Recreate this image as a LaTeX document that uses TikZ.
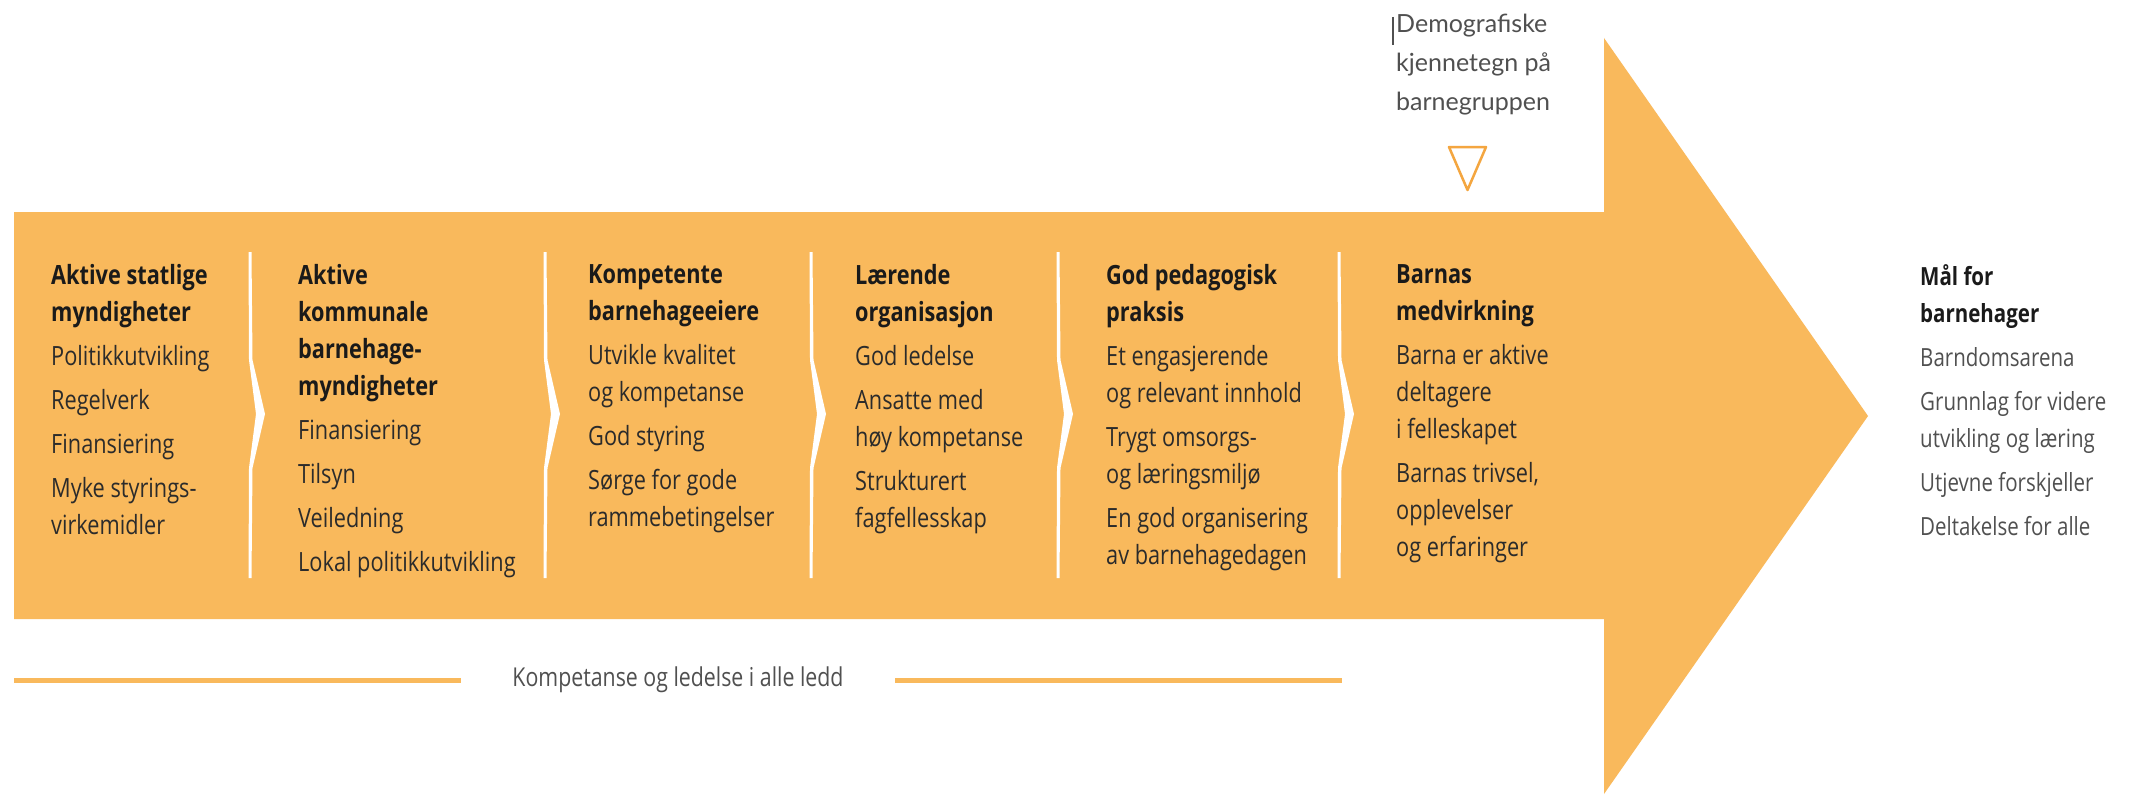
\documentclass[tikz,border=0pt]{standalone}
\usepackage{fontspec}
\setmainfont{Open Sans}
\newfontfamily\cf[FakeStretch=0.82]{Open Sans}
\newfontfamily\lf{Lato}
\definecolor{org}{HTML}{F9B95C}
\definecolor{orgline}{HTML}{F4A640}
\definecolor{hd}{HTML}{1A1A1A}
\definecolor{it}{HTML}{2B2B2B}
\definecolor{gr}{HTML}{505050}
\begin{document}
\begin{tikzpicture}[x=1pt,y=-1pt,
  col/.style={anchor=north west, inner sep=0pt, align=left, text=it,
    font=\cf\fontsize{26.5}{37}\selectfont},
  goal/.style={anchor=north west, inner sep=0pt, align=left, text=gr,
    font=\cf\fontsize{25}{37}\selectfont},
  demo/.style={anchor=north west, inner sep=0pt, align=left, text=gr,
    font=\lf\fontsize{25}{39}\selectfont},
  foot/.style={inner sep=0pt, text=gr, font=\cf\fontsize{26}{30}\selectfont},
  sepline/.style={draw=org, line width=5pt}]
\useasboundingbox (0,0) rectangle (2146,797);
\fill[white] (0,0) rectangle (2146,797);
% big arrow
\fill[org] (14,212) -- (1604,212) -- (1604,38) -- (1868,416) -- (1604,794)
  -- (1604,619) -- (14,619) -- cycle;
% white separators
\foreach \x in {250,545,811,1058,1339}
  \fill[white] (\x-1.5,252) -- (\x+1.5,252) -- (\x+2.5,360) -- (\x+15,414)
    -- (\x+2.5,468) -- (\x+1.5,578) -- (\x-1.5,578) -- (\x-1,468)
    -- (\x+6,414) -- (\x-1,360) -- cycle;
% columns
\node[col] (c1) at (51,264) {\textcolor{hd}{\bfseries Aktive statlige}\\
  \textcolor{hd}{\bfseries myndigheter}\\[7pt]
  Politikkutvikling\\[7pt] Regelverk\\[7pt] Finansiering\\[7pt]
  Myke styrings-\\ virkemidler};
\node[col] (c2) at (298,264) {\textcolor{hd}{\bfseries Aktive}\\
  \textcolor{hd}{\bfseries kommunale}\\
  \textcolor{hd}{\bfseries barnehage-}\\
  \textcolor{hd}{\bfseries myndigheter}\\[7pt]
  Finansiering\\[7pt] Tilsyn\\[7pt] Veiledning\\[7pt] Lokal politikkutvikling};
\node[col] (c3) at (588,264) {\textcolor{hd}{\bfseries Kompetente}\\
  \textcolor{hd}{\bfseries barnehageeiere}\\[7pt]
  Utvikle kvalitet\\ og kompetanse\\[7pt] God styring\\[7pt]
  Sørge for gode\\ rammebetingelser};
\node[col] (c4) at (855,264) {\textcolor{hd}{\bfseries Lærende}\\
  \textcolor{hd}{\bfseries organisasjon}\\[7pt]
  God ledelse\\[7pt] Ansatte med\\ høy kompetanse\\[7pt]
  Strukturert\\ fagfellesskap};
\node[col] (c5) at (1106,264) {\textcolor{hd}{\bfseries God pedagogisk}\\
  \textcolor{hd}{\bfseries praksis}\\[7pt]
  Et engasjerende\\ og relevant innhold\\[7pt]
  Trygt omsorgs-\\ og læringsmiljø\\[7pt]
  En god organisering\\ av barnehagedagen};
\node[col] (c6) at (1396,264) {\textcolor{hd}{\bfseries Barnas}\\
  \textcolor{hd}{\bfseries medvirkning}\\[7pt]
  Barna er aktive\\ deltagere\\ i felleskapet\\[7pt]
  Barnas trivsel,\\ opplevelser\\ og erfaringer};
% goals
\node[goal] (goal) at (1920,264) {\textcolor{hd}{\bfseries Mål for}\\
  \textcolor{hd}{\bfseries barnehager}\\[7pt]
  Barndomsarena\\[7pt] Grunnlag for videre\\ utvikling og læring\\[7pt]
  Utjevne forskjeller\\[7pt] Deltakelse for alle};
% demographic input
\node[demo] (demo) at (1396,14) {Demografiske\\ kjennetegn på\\ barnegruppen};
\coordinate (cur) at ([xshift=-3pt,yshift=-3pt]demo.north west);
\draw[gr, line width=1.2pt] (cur) -- ++(0,28);
\coordinate (tA) at (1449,147);
\coordinate (tB) at (1486,147);
\coordinate (tC) at (1467.5,190);
\draw[orgline, line width=2.5pt, line join=round] (tA) -- (tB) -- (tC) -- cycle;
% bottom line
\node[foot] (foot) at (678,680) {Kompetanse og ledelse i alle ledd};
\coordinate (l1) at (14,680);
\coordinate (l2) at (461,680);
\coordinate (r1) at (895,680);
\coordinate (r2) at (1342,680);
\draw[sepline] (l1) -- (l2);
\draw[sepline] (r1) -- (r2);
\end{tikzpicture}
\end{document}
